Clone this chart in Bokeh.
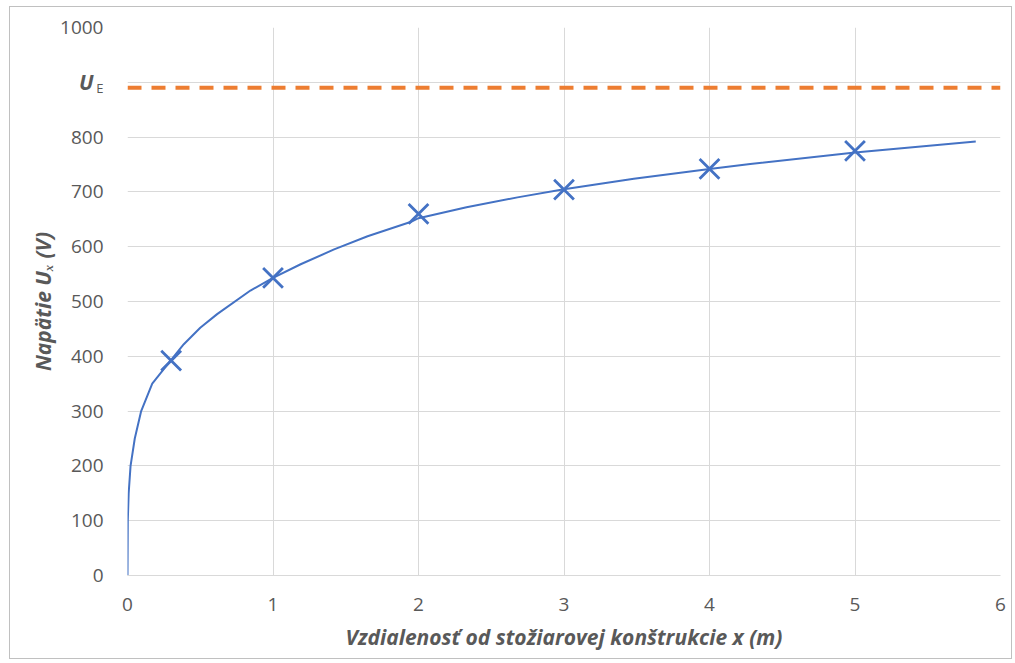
from bokeh.plotting import figure
from bokeh.models import Range1d, FixedTicker, LinearAxis
from bokeh.embed import file_html
from bokeh.resources import INLINE

# measured points (markers)
meas_x = [0.3, 1, 2, 3, 4, 5]
meas_u = [392, 543, 660, 704, 742, 775]

# curve
curve_x = [0, 0.002, 0.008, 0.021, 0.05, 0.094, 0.17, 0.296, 0.387, 0.5, 0.616, 0.845, 1.0,
           1.19, 1.42, 1.65, 1.945, 2.0, 2.33, 2.68, 3.0, 3.48, 4.0, 4.28, 5.0, 5.83]
curve_u = [0, 100, 150, 200, 250, 300, 350, 392, 422, 452, 477, 520, 543,
           568, 595, 619, 645, 652, 672, 690, 705, 724, 742, 751, 772, 792]

# U_E level
ue_x = [0, 6]
ue_u = [890, 890]
ue_tick = 900
e_tick = 889

x_ticks = [0, 1, 2, 3, 4, 5, 6]
y_ticks = [0, 100, 200, 300, 400, 500, 600, 700, 800, 900, 1000]

FONT = "Open Sans"
GREY_TXT = "#595959"

p = figure(width=1003, height=653, output_backend="svg", toolbar_location=None,
           x_range=Range1d(0, 6), y_range=Range1d(0, 1000),
           min_border_left=117, min_border_right=13, min_border_top=20, min_border_bottom=85)
p.styles = {"border": "1px solid #c0c0c0", "margin-left": "9px", "margin-top": "6px"}
p.outline_line_color = None
p.background_fill_color = "white"
p.border_fill_color = "white"

num_axis = p.yaxis[0]
p.xaxis.ticker = FixedTicker(ticks=x_ticks)
num_axis.ticker = FixedTicker(ticks=y_ticks)
num_axis.major_label_overrides = {ue_tick: ""}

for ax in (p.xaxis[0], num_axis):
    ax.major_tick_line_color = None
    ax.minor_tick_line_color = None
    ax.major_tick_out = 0
    ax.major_tick_in = 0
    ax.major_label_text_font = FONT
    ax.major_label_text_font_size = "19px"
    ax.major_label_text_color = GREY_TXT
    ax.axis_label_text_font = FONT
    ax.axis_label_text_font_size = "21px"
    ax.axis_label_text_font_style = "bold italic"
    ax.axis_label_text_color = GREY_TXT

p.xaxis.axis_line_color = "#d9d9d9"
num_axis.axis_line_color = None
p.xaxis.major_label_standoff = 22
p.xaxis.axis_label_standoff = 9
p.xaxis.axis_label = "Vzdialenosť od stožiarovej konštrukcie x (m)"
num_axis.axis_label = "Napätie Uₓ (V)"

# axes carrying the "U_E" tick label (subscript E on its own axis)
axis_e = LinearAxis(ticker=FixedTicker(ticks=[e_tick]),
                    major_label_overrides={e_tick: "E"},
                    major_label_text_font=FONT, major_label_text_font_size="13px",
                    major_label_text_color=GREY_TXT, major_label_standoff=24,
                    major_tick_out=0, major_tick_in=0,
                    axis_line_color=None, major_tick_line_color=None, minor_tick_line_color=None)
axis_u = LinearAxis(ticker=FixedTicker(ticks=[ue_tick]),
                    major_label_overrides={ue_tick: "U"},
                    major_label_text_font=FONT, major_label_text_font_size="21px",
                    major_label_text_font_style="bold italic",
                    major_label_text_color=GREY_TXT, major_label_standoff=0,
                    major_tick_out=0, major_tick_in=0,
                    axis_line_color=None, major_tick_line_color=None, minor_tick_line_color=None)
num_axis.major_label_standoff = -28
num_axis.axis_label_standoff = 0
p.left = [axis_e, axis_u, num_axis]

p.xgrid.grid_line_color = "#d9d9d9"
p.ygrid.grid_line_color = "#d9d9d9"

p.line(ue_x, ue_u, line_color="#ED7D31", line_width=4, line_dash="14 10")
p.line(curve_x, curve_u, line_color="#4472C4", line_width=2)
p.scatter(meas_x, meas_u, marker="x", size=28, line_color="#4472C4", line_width=2.8)

open("out.html", "w").write(file_html(p, INLINE))
